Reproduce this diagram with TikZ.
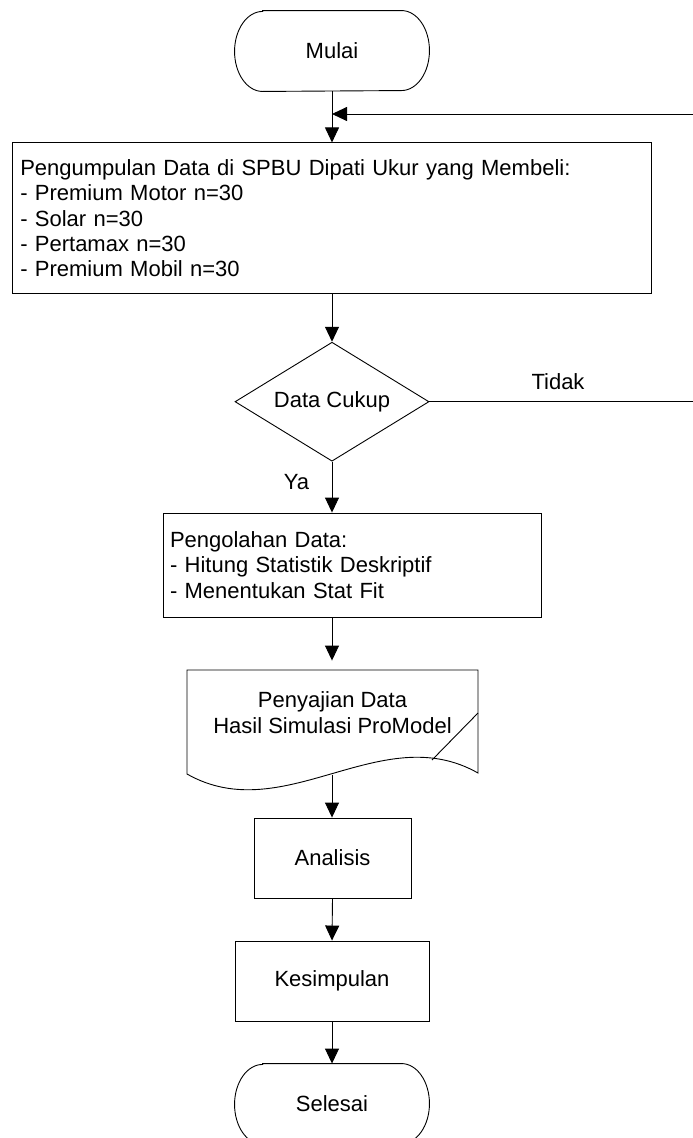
\documentclass[tikz,border=0pt]{standalone}
\usepackage{fontspec}
\setmainfont{Liberation Sans}
\usetikzlibrary{arrows.meta,shapes.geometric}
\begin{document}
\begin{tikzpicture}[x=1pt,y=-1pt,
  line width=0.9pt,
  every node/.style={font=\fontsize{22}{25.3}\selectfont, inner sep=0pt},
  flow/.style={draw, -{Triangle[length=15pt,width=14pt]}},
  procbox/.style={draw, rectangle, minimum height=80pt},
  termsize/.style={minimum width=194pt, minimum height=80pt},
  lbl/.style={anchor=base}
]
\useasboundingbox (0,0) rectangle (693,1138);

% terminator: Mulai
\node[termsize] (mulai) at (332,51) {Mulai};
\draw ([xshift=28pt]mulai.north west) -- ([xshift=-28pt]mulai.north east)
  arc[start angle=90, end angle=-90, x radius=28pt, y radius=40pt]
  -- ([xshift=28pt]mulai.south west)
  arc[start angle=270, end angle=90, x radius=28pt, y radius=40pt] -- cycle;

% data collection box
\node[draw, rectangle, minimum width=639pt, minimum height=151pt,
      text width=623pt, inner xsep=8pt, align=left] (kumpul) at (331.75,218.4)
  {Pengumpulan Data di SPBU Dipati Ukur yang Membeli:\\
   - Premium Motor n=30\\
   - Solar n=30\\
   - Pertamax n=30\\
   - Premium Mobil n=30};

% decision
\node[draw, diamond, aspect=1.63, minimum width=194pt, minimum height=119pt] (dec) at (332,401.7) {Data Cukup};

% processing box
\node[draw, rectangle, minimum width=378pt, minimum height=104pt,
      text width=364pt, inner xsep=7pt, align=left] (olah) at (352,565)
  {Pengolahan Data:\\
   - Hitung Statistik Deskriptif\\
   - Menentukan Stat Fit};

% document shape
\node[minimum width=291pt, minimum height=103pt, align=center] (doc) at (332.5,712.5)
  {Penyajian Data\\Hasil Simulasi ProModel};
\draw (187,670) -- (478,670) -- (478,773)
  .. controls (381,718) and (284,829) .. (187,774) -- cycle;
\draw (478,713) -- (432,760);
\coordinate (docb) at (332,774.5);

% analysis, conclusion
\node[procbox, minimum width=157pt] (anal) at (332.5,858) {Analisis};
\node[procbox, minimum width=194pt] (kesim) at (332,981) {Kesimpulan};

% terminator: Selesai
\node[termsize] (selesai) at (332,1104) {Selesai};
\draw ([xshift=28pt]selesai.north west) -- ([xshift=-28pt]selesai.north east)
  arc[start angle=90, end angle=-90, x radius=28pt, y radius=40pt]
  -- ([xshift=28pt]selesai.south west)
  arc[start angle=270, end angle=90, x radius=28pt, y radius=40pt] -- cycle;

% connectors
\draw[flow] (mulai.south) -- (mulai.south |- kumpul.north);
\draw[flow] (kumpul.south -| dec.north) -- (dec.north);
\draw[flow] (dec.south) -- (dec.south |- olah.north);
\draw[flow] (olah.south -| dec.south) -- (doc.north -| dec.south);
\draw[flow] (docb) -- (docb |- anal.north);
\draw[flow] (anal.south) -- (kesim.north);
\draw[flow] (kesim.south) -- (selesai.north);

% loop back
\coordinate (loopR) at (697,114);
\coordinate (loopT) at (332,114);
\draw[flow] (dec.east) -- (dec.east -| loopR) -- (loopR) -- (loopT);

% labels
\node[lbl] (tidak) at (558,389) {Tidak};
\node[lbl] (ya) at (296.5,489) {Ya};
\end{tikzpicture}
\end{document}
